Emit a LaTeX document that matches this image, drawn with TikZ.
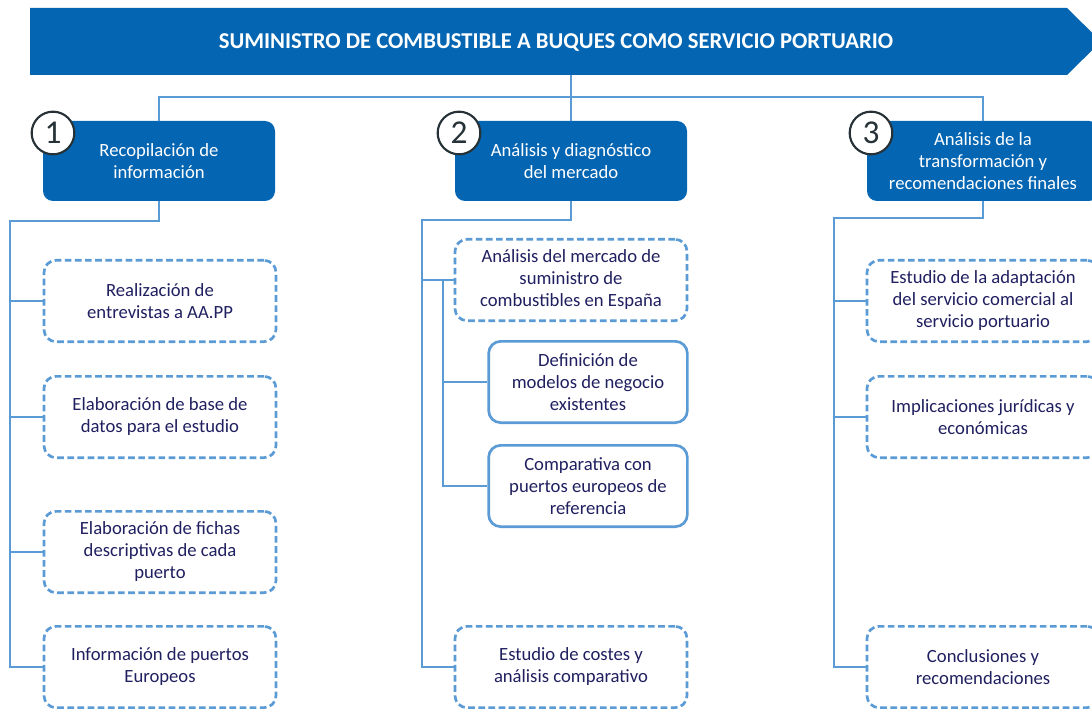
\documentclass[tikz,border=0pt]{standalone}
\usepackage{fontspec}
\setmainfont{Carlito}
\usetikzlibrary{positioning}

\definecolor{hdblue}{RGB}{4,101,178}
\definecolor{lnblue}{RGB}{91,155,213}
\definecolor{txtnavy}{RGB}{32,32,96}
\definecolor{ringgray}{RGB}{38,50,56}

\tikzset{
  phase/.style={fill=hdblue,rounded corners=7.5pt,minimum width=174pt,minimum height=60pt,
    text=white,align=center,inner sep=2pt,font=\fontsize{14}{16.5}\selectfont},
  task/.style={draw=lnblue,line width=2pt,dash pattern=on 5pt off 2.6pt,rounded corners=9pt,
    fill=white,minimum width=174pt,minimum height=61pt,text=txtnavy,align=center,inner sep=2pt,
    font=\fontsize{14}{16.5}\selectfont},
  subtask/.style={task,solid,minimum width=149pt},
  num/.style={circle,draw=ringgray,fill=white,line width=1.6pt,minimum size=32pt,inner sep=0pt,
    text=ringgray,font=\fontsize{25}{25}\selectfont},
  link/.style={draw=lnblue,line width=1.5pt}
}

\begin{document}
\begin{tikzpicture}[x=0.75pt,y=-0.75pt]
\clip (0,0) rectangle (1092,709);

% banner
\fill[hdblue] (30,8) -- (1067,8) -- (1101,41.5) -- (1067,75) -- (30,75) -- cycle;
\node[text=white,font=\bfseries\fontsize{17}{17}\selectfont] (title) at (556,42) {SUMINISTRO DE COMBUSTIBLE A BUQUES COMO SERVICIO PORTUARIO};
\coordinate (top) at (571,75);
\coordinate (fork) at (571,97);

% phases
\node[phase] (h1) at (159,161) {Recopilación de\\información};
\node[phase] (h2) at (571,161) {Análisis y diagnóstico\\del mercado};
\node[phase] (h3) at (983,161) {Análisis de la\\transformación y\\recomendaciones finales};
\node[num] (n1) at (53,133) {1};
\node[num] (n2) at (459,133) {2};
\node[num] (n3) at (871,133) {3};

% tasks
\node[task] (a1) at (160,301) {Realización de\\entrevistas a AA.PP};
\node[task] (a2) at (160,417) {Elaboración de base de\\datos para el estudio};
\node[task] (a3) at (160,552) {Elaboración de fichas\\descriptivas de cada\\puerto};
\node[task] (a4) at (160,667) {Información de puertos\\Europeos};

\node[task] (b1) at (571,280) {Análisis del mercado de\\suministro de\\combustibles en España};
\node[subtask] (b2) at (588,382) {Definición de\\modelos de negocio\\existentes};
\node[subtask] (b3) at (588,486) {Comparativa con\\puertos europeos de\\referencia};
\node[task] (b4) at (571,667) {Estudio de costes y\\análisis comparativo};

\node[task] (c1) at (983,301) {Estudio de la adaptación\\del servicio comercial al\\servicio portuario};
\node[task] (c2) at (983,417) {Implicaciones jurídicas y\\económicas};
\node[task] (c3) at (983,667) {Conclusiones y\\recomendaciones};

% connectors
\draw[link] (top) -- (fork);
\draw[link] (fork) -| (h1.north);
\draw[link] (fork) -| (h3.north);
\draw[link] (fork) -- (h2.north);

\coordinate (t1) at (10,221);
\draw[link] (h1.south) |- (t1) |- (a4.west);
\draw[link] (a1.west) -- (a1.west -| t1);
\draw[link] (a2.west) -- (a2.west -| t1);
\draw[link] (a3.west) -- (a3.west -| t1);

\coordinate (t2) at (422,220);
\coordinate (t2b) at (443,280);
\draw[link] (h2.south) |- (t2) |- (b4.west);
\draw[link] (b1.west) -- (b1.west -| t2);
\draw[link] (t2b) |- (b3.west);
\draw[link] (b2.west) -- (b2.west -| t2b);

\coordinate (t3) at (834,218);
\draw[link] (h3.south) |- (t3) |- (c3.west);
\draw[link] (c1.west) -- (c1.west -| t3);
\draw[link] (c2.west) -- (c2.west -| t3);

\end{tikzpicture}
\end{document}
